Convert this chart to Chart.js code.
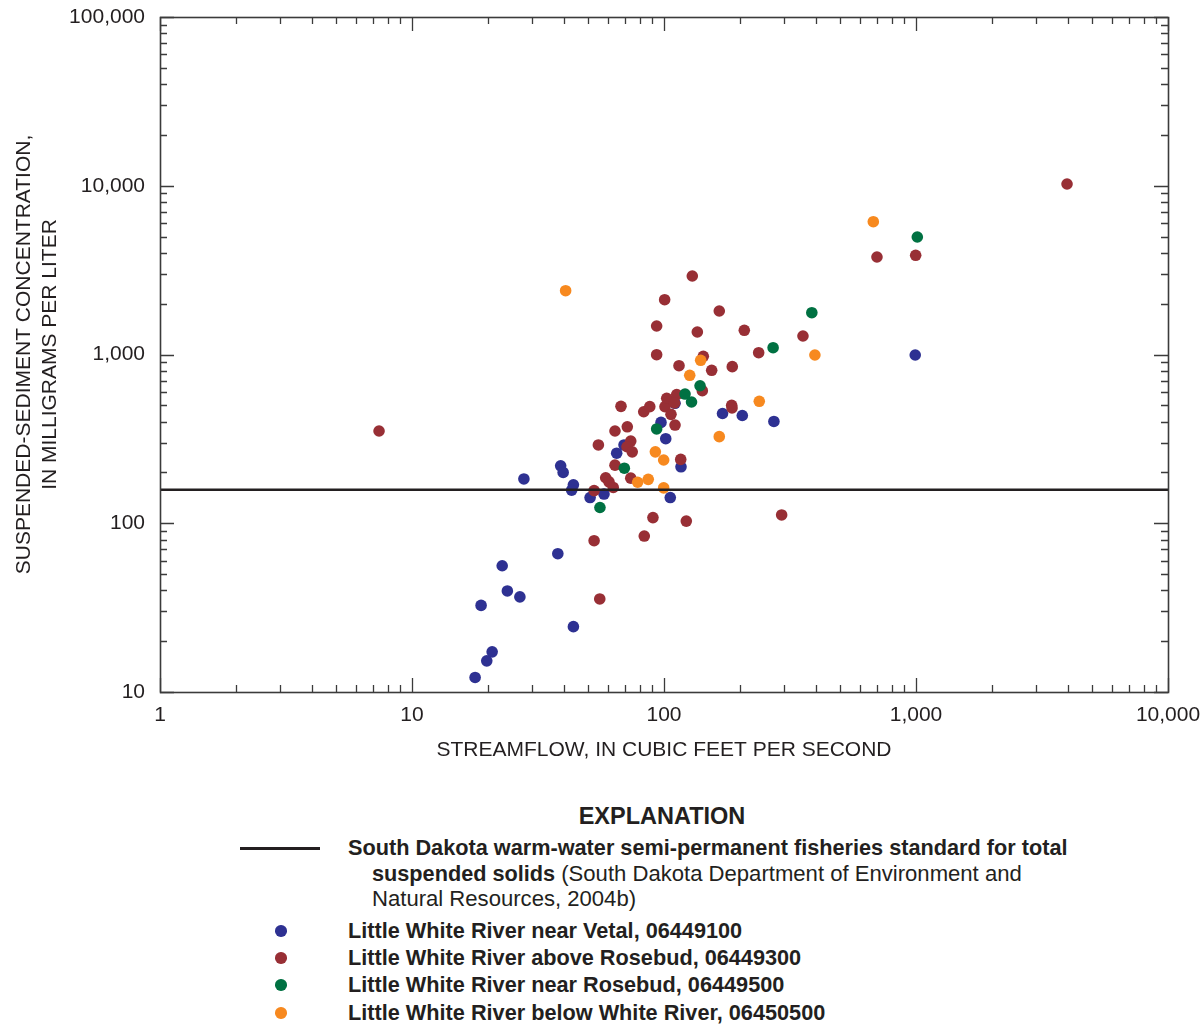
<!DOCTYPE html>
<html>
<head>
<meta charset="utf-8">
<title>Suspended-sediment concentration and streamflow, Little White River</title>
<script src="https://cdn.jsdelivr.net/npm/chart.js@4.4.1/dist/chart.umd.min.js"></script>
<style>
  html, body { margin: 0; padding: 0; background: #ffffff; }
  #wrap { position: relative; width: 1201px; height: 1026px; overflow: hidden; font-family: "Liberation Sans", Arial, sans-serif; color: #231f20; }
  #chart { position: absolute; left: 0; top: 0; }
  .lg { position: absolute; white-space: nowrap; line-height: 26px; font-size: 21.7px; }
  .b { font-weight: bold; font-size: 21.7px; }
  .r { font-weight: normal; font-size: 22.1px; }
  #explTitle { position: absolute; left: 0; width: 1324px; text-align: center; top: 802px; font-weight: bold; font-size: 23.5px; line-height: 28px; }
  .dot { position: absolute; width: 11.5px; height: 11.5px; border-radius: 50%; }
  .stdLine { position: absolute; left: 240px; top: 847px; width: 80px; height: 2.5px; background: #231f20; }
</style>
</head>
<body>
<div id="wrap">
  <canvas id="chart" width="1201" height="775"></canvas>
  <div id="explTitle">EXPLANATION</div>
  <div class="stdLine"></div>
  <div class="lg b" style="left:348px; top:835px;">South Dakota warm-water semi-permanent fisheries standard for total</div>
  <div class="lg" style="left:372px; top:861px;"><span class="b">suspended solids</span> <span class="r">(South Dakota Department of Environment and</span></div>
  <div class="lg r" style="left:372px; top:886px;">Natural Resources, 2004b)</div>
  <div id="legendRows"></div>
</div>
<script>
// Streamflow (cubic feet per second) and suspended-sediment concentration (mg/L)
// for each sampling station.
const vetalFlow = [17.8, 19.8, 20.8, 18.8, 22.8, 23.9, 26.8, 27.8, 37.9, 38.9, 39.8, 43.7, 43.0, 43.7,
  50.9, 57.8, 64.9, 69.4, 97.3, 101.6, 116.8, 105.9, 110.6, 170.7, 204.5, 273, 993];
const vetalConc = [12.2, 15.3, 17.3, 32.6, 56.0, 39.7, 36.6, 183, 66.0, 219, 200, 169, 157, 24.4,
  142, 149, 260, 291, 396, 317, 216, 142, 514, 447, 435, 401, 993];

const aboveRosebudFlow = [7.4, 52.8, 52.8, 55.6, 54.9, 58.7, 60.5, 62.9, 63.9, 63.9, 67.5, 71.5, 73.8, 71.3,
  74.8, 73.8, 83.1, 87.8, 90.4, 83.5, 93.5, 93.5, 100.6, 100.9, 102.5, 106.6, 110.6, 112.3, 110.1, 114.7,
  116.5, 122.6, 129.5, 135.6, 143.2, 141.9, 154.6, 165.7, 186.6, 185.6, 186.2, 208.3, 237.5, 293, 356,
  700, 997, 3975];
const aboveRosebudConc = [352, 156, 78.8, 35.6, 291, 186, 176, 163, 221, 352, 493, 373, 307, 284,
  265, 185, 458, 491, 108, 84, 997, 1475, 2112, 491, 550, 442, 382, 579, 516, 858,
  239, 103, 2919, 1359, 976, 610, 806, 1810, 847, 500, 482, 1391, 1025, 112, 1287,
  3783, 3872, 10240];

const nearRosebudFlow = [55.7, 69.6, 93.5, 121.2, 128.6, 139, 271, 386, 1012];
const nearRosebudConc = [124, 212, 362, 583, 523, 653, 1097, 1769, 4970];

const belowWhiteFlow = [40.7, 78.6, 86.6, 92.4, 99.7, 99.7, 126.5, 139.8, 165.7, 238.8, 397, 677];
const belowWhiteConc = [2388, 175, 182, 265, 237, 162, 753, 924, 326, 528, 993, 6124];

// Total suspended solids standard (mg/L), drawn across the full flow range
const standardFlow = [1, 10000];
const standardConc = [158, 158];

// Decade tick values and their labels
const xMajorValues = [1, 10, 100, 1000, 10000];
const xTickLabels = ['1', '10', '100', '1,000', '10,000'];
const yMajorValues = [10, 100, 1000, 10000, 100000];
const yTickLabels = ['10', '100', '1,000', '10,000', '100,000'];

const stationNames = [
  'Little White River near Vetal, 06449100',
  'Little White River above Rosebud, 06449300',
  'Little White River near Rosebud, 06449500',
  'Little White River below White River, 06450500'
];
const stationColors = ['#2e3192', '#982f35', '#007142', '#f7891f'];

const INK = '#231f20';
const FONT = '"Liberation Sans", Arial, sans-serif';

function pts(xs, ys) { return xs.map((x, i) => ({ x: x, y: ys[i] })); }

// Major ticks at each decade, minor ticks at 2..9 times the decade
function logTicks(majors) {
  const out = [];
  majors.forEach((m, i) => {
    out.push({ value: m, major: true });
    if (i < majors.length - 1) {
      for (let k = 2; k <= 9; k++) out.push({ value: m * k, major: false });
    }
  });
  return out;
}

// Draw the frame and inward-pointing ticks on all four sides
const frameTicks = {
  id: 'frameTicks',
  afterDraw(chart) {
    const { ctx, chartArea: a, scales } = chart;
    const xs = scales.x, ys = scales.y;
    ctx.save();
    ctx.strokeStyle = '#3b3b3b';
    ctx.lineWidth = 1.3;
    ctx.beginPath();
    xs.ticks.forEach(t => {
      const px = Math.round(xs.getPixelForValue(t.value)) + 0.5;
      const len = t.major ? 14 : 7;
      ctx.moveTo(px, a.bottom); ctx.lineTo(px, a.bottom - len);
      ctx.moveTo(px, a.top); ctx.lineTo(px, a.top + len);
    });
    ys.ticks.forEach(t => {
      const py = Math.round(ys.getPixelForValue(t.value)) + 0.5;
      const len = t.major ? 14 : 7;
      ctx.moveTo(a.left, py); ctx.lineTo(a.left + len, py);
      ctx.moveTo(a.right, py); ctx.lineTo(a.right - len, py);
    });
    ctx.stroke();
    ctx.lineWidth = 1.6;
    ctx.strokeStyle = '#3b3b3b';
    ctx.strokeRect(Math.round(a.left) + 0.5, Math.round(a.top) + 0.5,
      Math.round(a.right - a.left), Math.round(a.bottom - a.top));
    ctx.restore();
  }
};

const seriesFlows = [vetalFlow, aboveRosebudFlow, nearRosebudFlow, belowWhiteFlow];
const seriesConcs = [vetalConc, aboveRosebudConc, nearRosebudConc, belowWhiteConc];
// later stations are drawn over earlier ones
const drawOrder = [4, 3, 2, 1];

const datasets = stationNames.map((name, i) => ({
  type: 'scatter',
  label: name,
  data: pts(seriesFlows[i], seriesConcs[i]),
  backgroundColor: stationColors[i],
  borderWidth: 0,
  pointRadius: 5.8,
  pointHoverRadius: 5.8,
  pointBorderWidth: 0,
  order: drawOrder[i]
}));

datasets.push({
  type: 'line',
  label: 'South Dakota warm-water semi-permanent fisheries standard for total suspended solids',
  data: pts(standardFlow, standardConc),
  borderColor: INK,
  borderWidth: 2.6,
  pointRadius: 0,
  fill: false,
  order: 0
});

// Tick labels may overhang the plot edges; keep the plot box fixed by the layout padding
function noOverhang(s) {
  s.paddingTop = 0; s.paddingBottom = 0; s.paddingLeft = 0; s.paddingRight = 0;
}

new Chart(document.getElementById('chart'), {
  data: { datasets: datasets },
  options: {
    responsive: false,
    animation: false,
    events: [],
    layout: { padding: { left: 0, right: 33, top: 17, bottom: 0 } },
    plugins: { legend: { display: false }, tooltip: { enabled: false }, title: { display: false } },
    scales: {
      x: {
        type: 'logarithmic',
        position: 'bottom',
        min: 1,
        max: 10000,
        afterBuildTicks: s => { s.ticks = logTicks(xMajorValues); },
        afterFit: s => { s.height = 775 - 692; noOverhang(s); },
        grid: { display: false, drawTicks: false },
        border: { display: false },
        ticks: {
          autoSkip: false,
          maxRotation: 0,
          padding: 11,
          color: INK,
          font: { family: FONT, size: 21 },
          callback: v => { const i = xMajorValues.indexOf(v); return i >= 0 ? xTickLabels[i] : ''; }
        },
        title: {
          display: true,
          text: 'STREAMFLOW, IN CUBIC FEET PER SECOND',
          color: INK,
          font: { family: FONT, size: 21 },
          padding: { top: 0, bottom: 12 }
        }
      },
      y: {
        type: 'logarithmic',
        position: 'left',
        min: 10,
        max: 100000,
        afterBuildTicks: s => { s.ticks = logTicks(yMajorValues); },
        afterFit: s => { s.width = 160; noOverhang(s); },
        grid: { display: false, drawTicks: false },
        border: { display: false },
        ticks: {
          autoSkip: false,
          padding: 15,
          color: INK,
          font: { family: FONT, size: 21 },
          callback: v => { const i = yMajorValues.indexOf(v); return i >= 0 ? yTickLabels[i] : ''; }
        },
        title: {
          display: true,
          text: ['SUSPENDED-SEDIMENT CONCENTRATION,', 'IN MILLIGRAMS PER LITER'],
          color: INK,
          font: { family: FONT, size: 21, lineHeight: 26 / 21 },
          padding: { top: 11, bottom: 0 }
        }
      }
    }
  },
  plugins: [frameTicks]
});

// Legend rows for the stations
const rows = document.getElementById('legendRows');
const rowCenters = [931, 958, 985, 1013];
stationNames.forEach((name, i) => {
  const d = document.createElement('div');
  d.className = 'dot';
  d.style.background = stationColors[i];
  d.style.left = (281 - 5.75) + 'px';
  d.style.top = (rowCenters[i] - 5.75) + 'px';
  rows.appendChild(d);
  const t = document.createElement('div');
  t.className = 'lg b';
  t.style.left = '348px';
  t.style.top = (rowCenters[i] - 13) + 'px';
  t.textContent = name;
  rows.appendChild(t);
});
</script>
</body>
</html>
